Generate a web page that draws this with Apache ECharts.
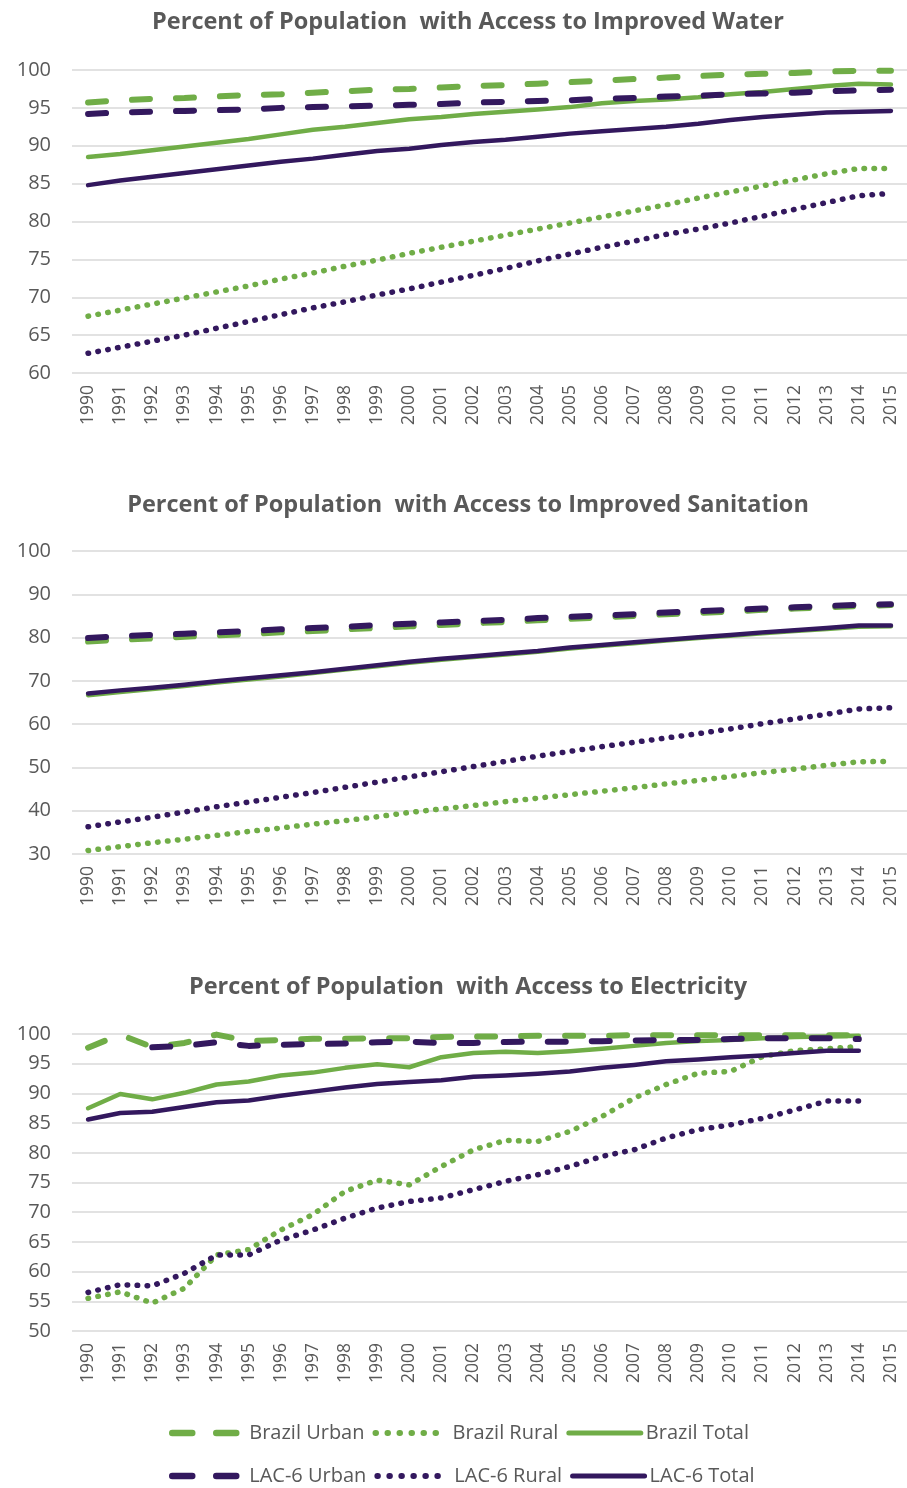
<!DOCTYPE html>
<html><head><meta charset="utf-8">
<script src="https://cdn.jsdelivr.net/npm/echarts@6/dist/echarts.min.js"></script>
<style>html,body{margin:0;padding:0;background:#fff}#c{width:907px;height:1488px}</style>
</head><body><div id="c"></div>
<script>
const years = ['1990','1991','1992','1993','1994','1995','1996','1997','1998','1999','2000','2001','2002','2003','2004','2005','2006','2007','2008','2009','2010','2011','2012','2013','2014','2015'];
const seriesNames = ['Brazil Urban','Brazil Rural','Brazil Total','LAC-6 Urban','LAC-6 Rural','LAC-6 Total'];
const titles = ['Percent of Population  with Access to Improved Water','Percent of Population  with Access to Improved Sanitation','Percent of Population  with Access to Electricity'];

// Improved water
const waterBrazilUrban = [95.7,96.0,96.2,96.3,96.5,96.7,96.8,97.0,97.2,97.4,97.5,97.7,97.9,98.0,98.2,98.4,98.6,98.8,99.0,99.2,99.4,99.5,99.6,99.8,99.9,99.9];
const waterBrazilRural = [67.5,68.3,69.1,69.9,70.7,71.5,72.4,73.2,74.1,74.9,75.8,76.6,77.4,78.2,79.0,79.8,80.6,81.4,82.2,83.1,83.9,84.7,85.5,86.3,87.0,87.0];
const waterBrazilTotal = [88.5,88.9,89.4,89.9,90.4,90.9,91.5,92.1,92.5,93.0,93.5,93.8,94.2,94.5,94.8,95.1,95.6,95.9,96.1,96.4,96.8,97.1,97.5,97.9,98.2,98.1];
const waterLacUrban = [94.2,94.4,94.5,94.6,94.7,94.8,95.0,95.1,95.2,95.3,95.4,95.5,95.7,95.8,95.9,96.0,96.2,96.3,96.5,96.6,96.8,96.9,97.0,97.2,97.3,97.4];
const waterLacRural = [62.6,63.4,64.2,65.0,65.9,66.8,67.7,68.6,69.4,70.3,71.1,72.0,72.9,73.8,74.8,75.7,76.6,77.4,78.3,79.0,79.8,80.7,81.6,82.5,83.4,83.7];
const waterLacTotal = [84.8,85.4,85.9,86.4,86.9,87.4,87.9,88.3,88.8,89.3,89.6,90.1,90.5,90.8,91.2,91.6,91.9,92.2,92.5,92.9,93.4,93.8,94.1,94.4,94.5,94.6];

// Improved sanitation
const sanBrazilUrban = [79.1,79.5,79.8,80.2,80.5,80.8,81.2,81.5,81.9,82.2,82.6,82.9,83.3,83.6,84.0,84.3,84.7,85.0,85.4,85.7,86.0,86.4,86.7,87.0,87.3,87.5];
const sanBrazilRural = [30.8,31.7,32.6,33.4,34.3,35.2,36.0,36.9,37.7,38.6,39.6,40.4,41.2,42.1,42.9,43.7,44.5,45.3,46.2,47.0,47.9,48.8,49.6,50.5,51.3,51.4];
const sanBrazilTotal = [66.7,67.4,68.1,68.8,69.6,70.3,71.0,71.8,72.6,73.4,74.2,74.9,75.5,76.1,76.7,77.5,78.1,78.7,79.3,79.9,80.4,81.0,81.5,82.0,82.5,82.6];
const sanLacUrban = [79.9,80.3,80.6,80.9,81.2,81.5,81.9,82.2,82.5,82.9,83.2,83.5,83.8,84.1,84.5,84.8,85.1,85.4,85.8,86.1,86.4,86.7,87.0,87.3,87.6,87.7];
const sanLacRural = [36.3,37.4,38.5,39.7,40.9,42.0,43.1,44.2,45.4,46.6,47.8,49.0,50.2,51.4,52.6,53.7,54.8,55.8,56.8,57.8,58.9,60.1,61.2,62.3,63.5,63.8];
const sanLacTotal = [67.1,67.8,68.4,69.1,69.9,70.6,71.3,72.0,72.8,73.6,74.4,75.1,75.7,76.3,76.9,77.7,78.3,78.9,79.5,80.1,80.6,81.2,81.7,82.2,82.8,82.8];

// Electricity
const elecBrazilUrban = [97.7,99.9,97.8,98.5,99.9,98.8,99.0,99.2,99.2,99.3,99.3,99.5,99.6,99.6,99.7,99.7,99.7,99.8,99.8,99.8,99.8,99.8,99.8,99.8,99.8,null];
const elecBrazilRural = [55.5,56.6,54.7,57.2,62.8,63.7,67.0,69.6,73.5,75.4,74.6,77.7,80.5,82.1,81.9,83.6,86.1,89.2,91.5,93.4,93.7,96.2,97.2,97.5,97.9,null];
const elecBrazilTotal = [87.5,89.9,89.0,90.1,91.5,92.0,93.0,93.5,94.3,94.9,94.4,96.1,96.8,97.0,96.8,97.1,97.5,98.0,98.5,98.8,99.0,99.3,99.5,99.6,99.7,null];
const elecLacUrban = [null,null,97.75,98.0,98.6,98.0,98.2,98.3,98.4,98.6,98.7,98.5,98.5,98.65,98.7,98.7,98.8,98.9,99.0,99.0,99.15,99.3,99.3,99.3,99.15,null];
const elecLacRural = [56.5,57.8,57.6,59.7,62.8,62.8,65.3,67.0,69.0,70.7,71.8,72.4,73.8,75.2,76.3,77.7,79.4,80.5,82.5,83.9,84.7,85.8,87.2,88.7,88.7,null];
const elecLacTotal = [85.6,86.7,86.9,87.7,88.5,88.8,89.6,90.3,91.0,91.6,91.9,92.2,92.8,93.0,93.3,93.7,94.3,94.8,95.4,95.7,96.1,96.4,96.8,97.2,97.2,null];

const yMins = [60,30,50];
const yIntervals = [5,10,5];

const GREEN = '#70AD47', PURPLE = '#33185E', TEXT = '#595959', GRIDC = '#D9D9D9';
const FONT = 'Open Sans';

const styles = {
  'Brazil Urban': {color: GREEN, width: 6, type: [18, 26], cap: 'round'},
  'Brazil Rural': {color: GREEN, width: 5.5, type: [0.5, 9.5], cap: 'round'},
  'Brazil Total': {color: GREEN, width: 4.5, type: 'solid', cap: 'round'},
  'LAC-6 Urban': {color: PURPLE, width: 6, type: [18, 26], cap: 'round'},
  'LAC-6 Rural': {color: PURPLE, width: 5.5, type: [0.5, 9.5], cap: 'round'},
  'LAC-6 Total': {color: PURPLE, width: 4.5, type: 'solid', cap: 'round'}
};
const legendTypes = {
  'Brazil Urban': [20, 24], 'Brazil Rural': [0.5, 11.5], 'Brazil Total': 'solid',
  'LAC-6 Urban': [20, 24], 'LAC-6 Rural': [0.5, 11.5], 'LAC-6 Total': 'solid'
};

const dataSets = [
  [waterBrazilUrban, waterBrazilRural, waterBrazilTotal, waterLacUrban, waterLacRural, waterLacTotal],
  [sanBrazilUrban, sanBrazilRural, sanBrazilTotal, sanLacUrban, sanLacRural, sanLacTotal],
  [elecBrazilUrban, elecBrazilRural, elecBrazilTotal, elecLacUrban, elecLacRural, elecLacTotal]
];

const gridTops = [70, 551, 1034];
const gridHeights = [303, 303, 297];
const titleTops = [5, 488, 970];

const grid = [], xAxis = [], yAxis = [], title = [], series = [];
for (let g = 0; g < 3; g++) {
  grid.push({left: 72, right: 0, top: gridTops[g], height: gridHeights[g], containLabel: false});
  title.push({text: titles[g], left: 463, textAlign: 'center', top: titleTops[g],
    textStyle: {fontFamily: FONT, fontSize: 23.5, fontWeight: 'bold', color: TEXT}});
  xAxis.push({type: 'category', gridIndex: g, data: years, boundaryGap: true,
    axisLine: {show: false}, axisTick: {show: false},
    axisLabel: {rotate: 90, margin: 12, fontFamily: FONT, fontSize: 17.5, color: TEXT, interval: 0}});
  yAxis.push({type: 'value', gridIndex: g, min: yMins[g], max: 100, interval: yIntervals[g],
    axisLine: {show: false}, axisTick: {show: false},
    axisLabel: {margin: 21, fontFamily: FONT, fontSize: 20, color: TEXT},
    splitLine: {show: true, lineStyle: {color: GRIDC, width: 1.5}}});
  for (let s = 0; s < 6; s++) {
    const name = seriesNames[s];
    const st = styles[name];
    series.push({name: name, type: 'line', xAxisIndex: g, yAxisIndex: g,
      data: dataSets[g][s], symbol: 'none', smooth: false, connectNulls: false,
      color: st.color,
      lineStyle: {color: st.color, width: st.width, type: st.type, cap: st.cap, join: 'round'},
      z: 2 + s});
  }
}

function legendItems(names) {
  return names.map(n => ({name: n,
    itemStyle: {opacity: 0},
    lineStyle: {color: styles[n].color, width: styles[n].width + 0.5, type: legendTypes[n], cap: 'round'}}));
}
const legendCommon = {left: 164, itemWidth: 72, itemHeight: 14, itemGap: 8,
  textStyle: {fontFamily: FONT, fontSize: 20, color: TEXT}, selectedMode: false};
const legend = [
  Object.assign({top: 1418, data: legendItems(seriesNames.slice(0,3))}, legendCommon),
  Object.assign({top: 1461, data: legendItems(seriesNames.slice(3,6))}, legendCommon)
];

const chart = echarts.init(document.getElementById('c'), null, {renderer: 'canvas'});
chart.setOption({animation: false, backgroundColor: '#fff', title, grid, xAxis, yAxis, legend, series});
</script>
</body></html>
